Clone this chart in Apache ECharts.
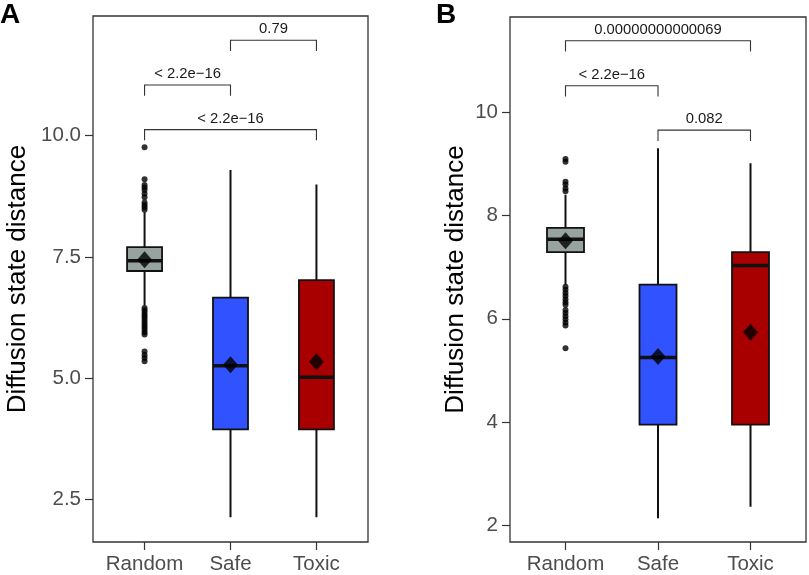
<!DOCTYPE html>
<html><head><meta charset="utf-8">
<script src="https://cdn.jsdelivr.net/npm/echarts@6/dist/echarts.min.js"></script>
<style>html,body{margin:0;padding:0;background:#fff}#c{width:809px;height:575px}</style>
</head><body><div id="c"></div>
<script>
// ---------- data ----------
const categories = ['Random', 'Safe', 'Toxic'];
const yTicksA = [2.5, 5.0, 7.5, 10.0];
const yTicksB = [2, 4, 6, 8, 10];

// box stats: [min, Q1, median, Q3, max]
const boxA = [
  [6.50, 7.21, 7.42, 7.70, 8.42],
  [2.14, 3.95, 5.26, 6.66, 9.29],
  [2.14, 3.95, 5.02, 7.02, 8.99]
];
const meanA = [7.44, 5.28, 5.34];
const outRandomA = [9.76, 9.10, 8.98, 8.93, 8.88, 8.80, 8.73, 8.62, 8.57, 8.52, 8.47,
  6.45, 6.40, 6.35, 6.30, 6.25, 6.20, 6.15, 6.10, 6.05, 6.00, 5.95, 5.90, 5.55, 5.48, 5.42, 5.35];

const boxB = [
  [6.66, 7.29, 7.54, 7.76, 8.40],
  [2.14, 3.95, 5.25, 6.66, 9.30],
  [2.36, 3.95, 7.03, 7.29, 9.01]
];
const meanB = [7.51, 5.27, 5.74];
const outRandomB = [9.09, 9.04, 8.65, 8.60, 8.52, 8.47,
  6.62, 6.56, 6.50, 6.44, 6.38, 6.32, 6.27, 6.17, 6.11, 6.05, 5.99, 5.93, 5.87, 5.43];

// brackets: [fromCategory, toCategory, lineY, tickEndY]
const bracketsA = [[1, 3, 10.12, 9.90], [1, 2, 11.04, 10.82], [2, 3, 11.96, 11.74]];
const bracketLabelsA = ['< 2.2e\u221216', '< 2.2e\u221216', '0.79'];
const bracketsB = [[1, 3, 11.38, 11.17], [1, 2, 10.51, 10.30], [2, 3, 9.65, 9.44]];
const bracketLabelsB = ['0.00000000000069', '< 2.2e\u221216', '0.082'];

// ---------- styles ----------
const FONT = '"Liberation Sans", Arial, Helvetica, sans-serif';
const boxFill = ['#97a39f', '#3153ff', '#a80000'];
const INK = '#111';

const chart = echarts.init(document.getElementById('c'), null, {renderer: 'canvas'});

function boxSeries(idx, stats, boxW) {
  return {
    type: 'custom', xAxisIndex: idx, yAxisIndex: idx, z: 2,
    data: stats.map((s, i) => [i + 1].concat(s)),
    encode: {x: 0, y: [1, 2, 3, 4, 5]},
    renderItem(params, api) {
      const x = api.value(0);
      const c = v => api.coord([x, v]);
      const pMin = c(api.value(1)), pQ1 = c(api.value(2)), pMed = c(api.value(3)),
            pQ3 = c(api.value(4)), pMax = c(api.value(5));
      const hw = boxW / 2;
      return {type: 'group', children: [
        {type: 'line', shape: {x1: pMax[0], y1: pMax[1], x2: pMin[0], y2: pMin[1]},
         style: {stroke: INK, lineWidth: 2}},
        {type: 'rect', shape: {x: pQ3[0] - hw, y: pQ3[1], width: boxW, height: pQ1[1] - pQ3[1]},
         style: {fill: boxFill[params.dataIndex], stroke: INK, lineWidth: 1.8}},
        {type: 'line', shape: {x1: pMed[0] - hw, y1: pMed[1], x2: pMed[0] + hw, y2: pMed[1]},
         style: {stroke: INK, lineWidth: 3.5}}
      ]};
    }
  };
}

function bracketSeries(idx, brackets, labels) {
  return {
    type: 'custom', xAxisIndex: idx, yAxisIndex: idx, z: 5, clip: false,
    data: brackets.map(b => b.slice()),
    encode: {x: [0, 1], y: [2, 3]},
    renderItem(params, api) {
      const a = api.coord([api.value(0), api.value(3)]);
      const b = api.coord([api.value(0), api.value(2)]);
      const c = api.coord([api.value(1), api.value(2)]);
      const d = api.coord([api.value(1), api.value(3)]);
      return {type: 'group', children: [
        {type: 'polyline', shape: {points: [a, b, c, d]}, style: {stroke: '#333', lineWidth: 1.1, fill: null}},
        {type: 'text', x: (b[0] + c[0]) / 2, y: b[1] - 3.5,
         style: {text: labels[params.dataIndex], font: '14.8px ' + FONT, fill: '#1a1a1a',
                 align: 'center', verticalAlign: 'bottom'}}
      ]};
    }
  };
}

function outlierSeries(idx, vals) {
  return {type: 'scatter', xAxisIndex: idx, yAxisIndex: idx, z: 3, symbolSize: 6,
          itemStyle: {color: '#000'}, data: vals.map(v => [1, v])};
}
function meanSeries(idx, vals) {
  return {type: 'scatter', xAxisIndex: idx, yAxisIndex: idx, z: 4, symbol: 'diamond',
          symbolSize: [15, 17], itemStyle: {color: '#000'}, data: vals.map((v, i) => [i + 1, v])};
}

function xAxis(idx, margin) {
  return {
    type: 'value', gridIndex: idx, min: 0.4, max: 3.6,
    axisLine: {show: false}, splitLine: {show: false},
    axisTick: {show: true, customValues: [1, 2, 3], length: 8, lineStyle: {color: '#333', width: 1.2}},
    axisLabel: {customValues: [1, 2, 3], formatter: v => categories[Math.round(v) - 1],
                fontSize: 20.5, color: '#4d4d4d', fontFamily: FONT, margin: margin}
  };
}
function yAxis(idx, min, max, ticks, digits, gap) {
  return {
    type: 'value', gridIndex: idx, min: min, max: max,
    axisLine: {show: false}, splitLine: {show: false},
    axisTick: {show: true, customValues: ticks, length: 8, lineStyle: {color: '#333', width: 1.2}},
    axisLabel: {customValues: ticks, formatter: v => v.toFixed(digits),
                fontSize: 20.5, color: '#4d4d4d', fontFamily: FONT, margin: 12},
    name: 'Diffusion state distance', nameLocation: 'middle', nameGap: gap,
    nameTextStyle: {fontSize: 26, color: '#000', fontFamily: FONT}
  };
}

chart.setOption({
  animation: false,
  backgroundColor: '#fff',
  title: [
    {text: 'A', left: 0, top: 1, padding: 0, textStyle: {fontSize: 28, fontWeight: 'bold', color: '#000', fontFamily: FONT}},
    {text: 'B', left: 436, top: 1, padding: 0, textStyle: {fontSize: 28, fontWeight: 'bold', color: '#000', fontFamily: FONT}}
  ],
  grid: [
    {left: 93, right: 441, top: 16, bottom: 30, show: true, borderColor: '#333', borderWidth: 1.3, backgroundColor: 'transparent'},
    {left: 510, right: 3, top: 17, bottom: 33, show: true, borderColor: '#333', borderWidth: 1.3, backgroundColor: 'transparent'}
  ],
  xAxis: [xAxis(0, 12), xAxis(1, 12)],
  yAxis: [yAxis(0, 1.63, 12.46, yTicksA, 1, 62), yAxis(1, 1.68, 11.84, yTicksB, 0, 41)],
  series: [
    boxSeries(0, boxA, 35), outlierSeries(0, outRandomA), meanSeries(0, meanA), bracketSeries(0, bracketsA, bracketLabelsA),
    boxSeries(1, boxB, 37), outlierSeries(1, outRandomB), meanSeries(1, meanB), bracketSeries(1, bracketsB, bracketLabelsB)
  ]
});
</script></body></html>
